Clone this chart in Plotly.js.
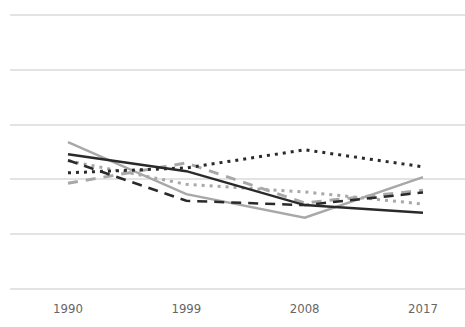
<!DOCTYPE html>
<html><head><meta charset="utf-8">
<script src="https://cdn.plot.ly/plotly-3.0.1.min.js"></script>
<style>html,body{margin:0;padding:0;background:#fff;}#chart{width:465px;height:327px;}</style>
</head><body><div id="chart"></div>
<script>
const years = ['1990', '1999', '2008', '2017'];
const darkSolid  = [24.6, 21.5, 15.3, 13.9];
const lightSolid = [26.8, 17.3, 13.0, 20.4];
const darkDash   = [23.5, 16.1, 15.3, 17.6];
const darkDot    = [21.2, 22.1, 25.4, 22.3];
const lightDash  = [19.3, 23.0, 15.7, 18.0];
const lightDot   = [23.4, 19.1, 17.7, 15.5];

const DARK = '#2a2a2a', LIGHT = '#a8a8a8';
function tr(y, color, dash, w) {
  return {x: years, y: y, type: 'scatter', mode: 'lines',
    line: {color: color, dash: dash, width: w}, hoverinfo: 'skip'};
}
const data = [
  tr(lightDot, LIGHT, '3px,5px', 3),
  tr(lightDash, LIGHT, '10px,8px', 3),
  tr(lightSolid, LIGHT, 'solid', 2.5),
  tr(darkDash, DARK, '10px,7px', 2.5),
  tr(darkDot, DARK, '3px,5px', 3),
  tr(darkSolid, DARK, 'solid', 2.5)
];
const layout = {
  width: 465, height: 327,
  margin: {l: 10, r: 0, t: 14, b: 37},
  paper_bgcolor: '#fff', plot_bgcolor: '#fff',
  showlegend: false,
  xaxis: {type: 'category', range: [-0.49, 3.355], showgrid: false, zeroline: false,
    showline: false, ticks: '', ticklabelstandoff: 9,
    tickfont: {family: 'DejaVu Sans Condensed, Liberation Sans Narrow, sans-serif', size: 13, color: '#666'}},
  yaxis: {range: [-0.2, 50.2], tickvals: [0, 10, 20, 30, 40, 50], showticklabels: false,
    gridcolor: '#e3e3e3', gridwidth: 2, zeroline: false, showline: false, ticks: ''}
};
Plotly.newPlot('chart', data, layout, {staticPlot: true, displayModeBar: false});
</script></body></html>
